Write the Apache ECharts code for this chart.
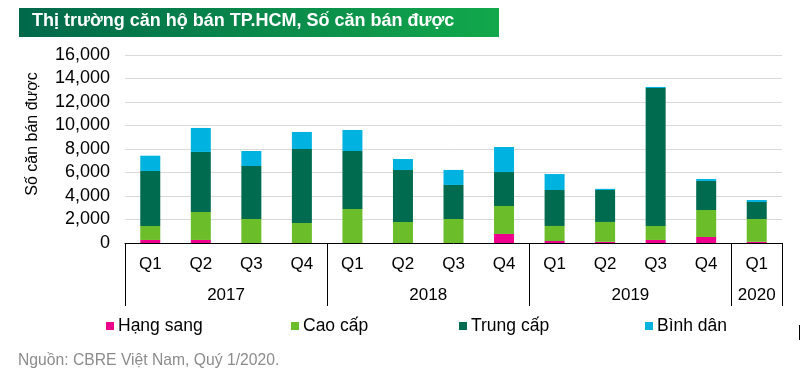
<!DOCTYPE html>
<html>
<head>
<meta charset="utf-8">
<script src="https://cdn.jsdelivr.net/npm/echarts@6/dist/echarts.min.js"></script>
<style>
  html, body { margin: 0; padding: 0; background: #fff; }
  #main { width: 801px; height: 376px; }
</style>
</head>
<body>
<div id="main"></div>
<script>
// số liệu
const quarters = ['Q1', 'Q2', 'Q3', 'Q4', 'Q1', 'Q2', 'Q3', 'Q4', 'Q1', 'Q2', 'Q3', 'Q4', 'Q1']
const years = {2: '2017', 6: '2018', 10: '2019', 12.5: '2020'}
const hangSang = [260, 260, 0, 0, 0, 0, 0, 770, 170, 100, 260, 510, 100]
const caoCap = [1190, 2380, 2040, 1700, 2900, 1790, 2040, 2380, 1280, 1690, 1190, 2300, 1940]
const trungCap = [4680, 5110, 4510, 6300, 4930, 4420, 2900, 2890, 3060, 2720, 11740, 2470, 1450]
const binhDan = [1300, 2040, 1280, 1450, 1790, 940, 1280, 2130, 1360, 100, 90, 170, 170]
const seriesNames = ['Hạng sang', 'Cao cấp', 'Trung cấp', 'Bình dân']
const legendLeft = [106, 291, 459, 645]

const font = 'Arial, "Liberation Sans", sans-serif'
const chart = echarts.init(document.getElementById('main'))

const makeBar = (name, data, color) => ({
  name: name,
  type: 'bar',
  stack: 'total',
  barWidth: 20,
  data: data,
  itemStyle: {color: color}
})

chart.setOption({
  textStyle: {fontFamily: font},
  animation: false,
  graphic: [
    {
      type: 'rect',
      z: 0,
      shape: {x: 19, y: 8, width: 480, height: 29},
      style: {
        fill: new echarts.graphic.LinearGradient(0, 0, 1, 0, [
          {offset: 0, color: '#00684A'},
          {offset: 1, color: '#12A84B'}
        ])
      }
    },
    {
      // vạch lẻ ở mép phải
      type: 'line',
      shape: {x1: 799.5, y1: 325, x2: 799.5, y2: 340},
      style: {stroke: '#000', lineWidth: 1}
    }
  ],
  title: [
    {
      text: 'Thị trường căn hộ bán TP.HCM, Số căn bán được',
      left: 32,
      top: 12,
      padding: 0,
      z: 10,
      textStyle: {color: '#fff', fontSize: 18, fontWeight: 'bold', fontFamily: font}
    },
    {
      text: 'Nguồn: CBRE Việt Nam, Quý 1/2020.',
      left: 18,
      top: 353,
      padding: 0,
      textStyle: {color: '#8c8c8c', fontSize: 15.7, fontWeight: 'normal', fontFamily: font}
    }
  ],
  // mỗi mục chú giải đặt riêng để khớp vị trí
  legend: seriesNames.map((name, i) => ({
    left: legendLeft[i],
    top: 317,
    padding: 0,
    itemWidth: 8,
    itemHeight: 8,
    icon: 'rect',
    textStyle: {fontSize: 17.5, color: '#000', padding: [0, 0, 0, -1], fontFamily: font},
    data: [name]
  })),
  grid: {left: 125, right: 19, top: 55, bottom: 133, outerBoundsMode: 'none', containLabel: false},
  xAxis: [
    {
      type: 'category',
      data: quarters,
      axisLine: {lineStyle: {color: '#000', width: 1}},
      axisTick: {
        show: true,
        length: 63,
        interval: 3,
        lineStyle: {color: '#000'}
      },
      axisLabel: {color: '#000', fontSize: 17, margin: 13, interval: 0, fontFamily: font}
    },
    {
      type: 'value',
      position: 'bottom',
      min: 0,
      max: 13,
      interval: 0.5,
      axisLine: {show: false},
      axisTick: {show: false},
      splitLine: {show: false},
      axisLabel: {
        color: '#000',
        fontSize: 17,
        margin: 44,
        fontFamily: font,
        showMinLabel: true,
        showMaxLabel: true,
        formatter: (v) => years[v] || ''
      }
    }
  ],
  yAxis: {
    type: 'value',
    min: 0,
    max: 16000,
    interval: 2000,
    name: 'Số căn bán được',
    nameLocation: 'middle',
    nameRotate: 90,
    nameGap: 84,
    nameTextStyle: {fontSize: 16, color: '#000', padding: [0, 0, 0, 30], fontFamily: font},
    axisLine: {show: false},
    axisTick: {show: false},
    splitLine: {lineStyle: {color: '#d9d9d9', width: 1}},
    axisLabel: {color: '#000', fontSize: 18, margin: 15, fontFamily: font}
  },
  series: [
    makeBar(seriesNames[0], hangSang, '#EC008C'),
    makeBar(seriesNames[1], caoCap, '#6BBD29'),
    makeBar(seriesNames[2], trungCap, '#006B4E'),
    makeBar(seriesNames[3], binhDan, '#00B2E0')
  ]
})
</script>
</body>
</html>
